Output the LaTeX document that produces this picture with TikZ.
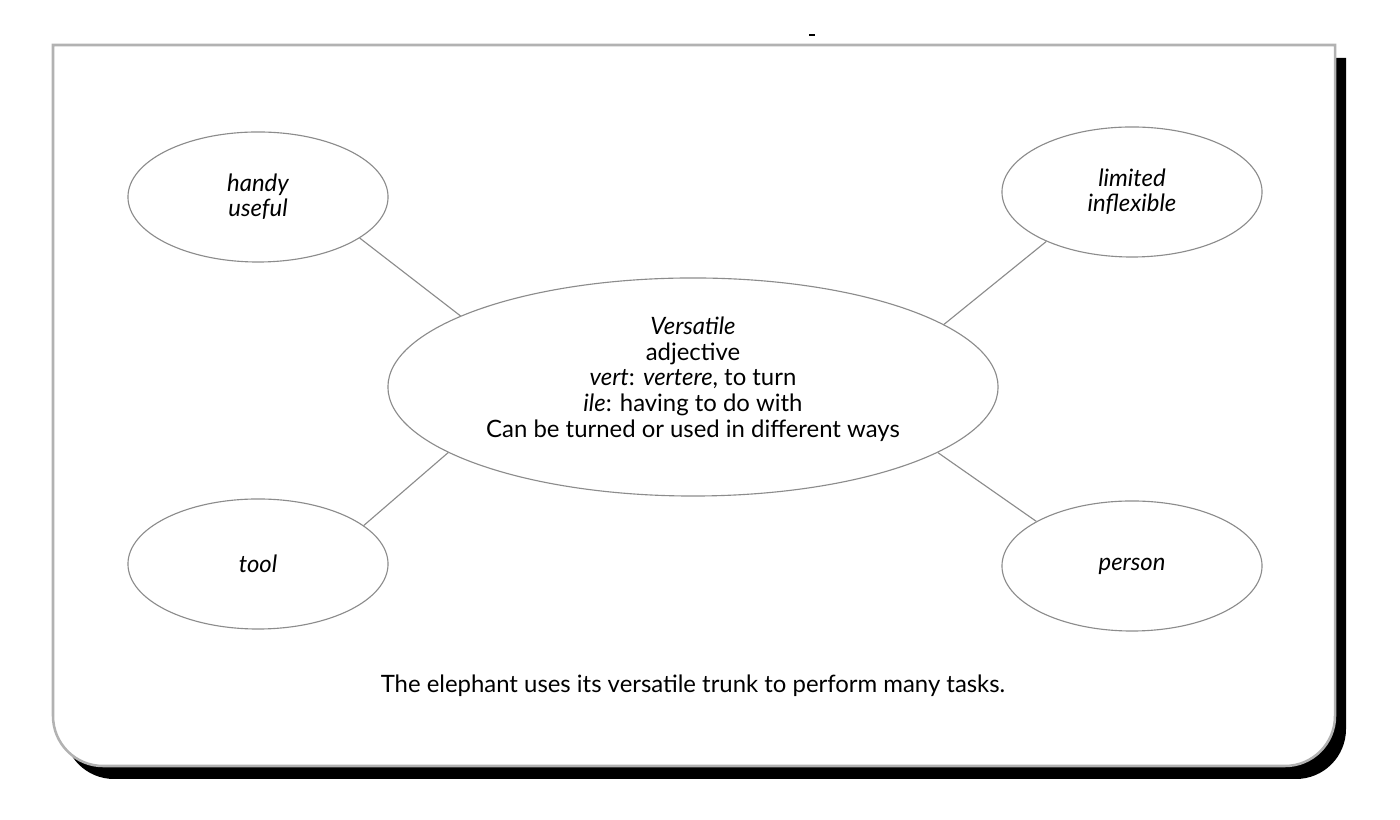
\documentclass[tikz,border=0pt]{standalone}
\usepackage{fontspec}
\setmainfont{Lato}
\usetikzlibrary{shapes.geometric}

\definecolor{cardgray}{RGB}{178,178,178}
\definecolor{linegray}{RGB}{140,140,140}

% outline of the card, square on top, round at the bottom
\newcommand{\cardoutline}{(53,775) -- (1335,775) -- (1335,104)
    arc[start angle=0,end angle=-90,radius=50] -- (103,54)
    arc[start angle=270,end angle=180,radius=50] -- cycle}

\tikzset{
  txt/.style={font=\fontsize{17}{18.3}\selectfont},
  bubble/.style={ellipse,draw=linegray,line width=0.8pt,inner sep=0pt,
    minimum width=6.5cm,minimum height=3.25cm,align=center,
    font=\fontsize{17}{17.5}\selectfont\itshape},
  spoke/.style={draw=linegray,line width=0.8pt}
}

\begin{document}
\begin{tikzpicture}[x=0.025cm,y=0.025cm]
\useasboundingbox (0,0) rectangle (1400,820);

% card with its shadow
\begin{scope}[shift={(11,-13)}]
\fill[black] \cardoutline;
\end{scope}
\filldraw[fill=white,draw=cardgray,line width=1.8pt] \cardoutline;
\draw[line width=1pt] (809,785) -- (815,785);

% central word
\node[bubble,minimum width=15.25cm,minimum height=5.45cm] (vers) at (693,433) {};
\node[txt,align=center] (def) at (693,441)
  {\textit{Versatile}\\ adjective\\ \textit{vert}: \textit{vertere}, to turn\\
   \textit{ile}: having to do with\\ Can be turned or used in different ways};

% the four around it
\node[bubble] (handy) at (258,623) {handy\\ useful};
\node[bubble] (limited) at (1132,628) {limited\\ inflexible};
\node[bubble] (tool) at (258,256) {tool};
\node[bubble] (person) at (1132,254) {person};

\draw[spoke] (handy.-22) -- (vers.163);
\draw[spoke] (limited.-150) -- (vers.14);
\draw[spoke] (tool.20) -- (vers.195);
\draw[spoke] (person.155) -- (vers.-15);

\node[txt] (sentence) at (693,134)
  {The elephant uses its versatile trunk to perform many tasks.};
\end{tikzpicture}
\end{document}
